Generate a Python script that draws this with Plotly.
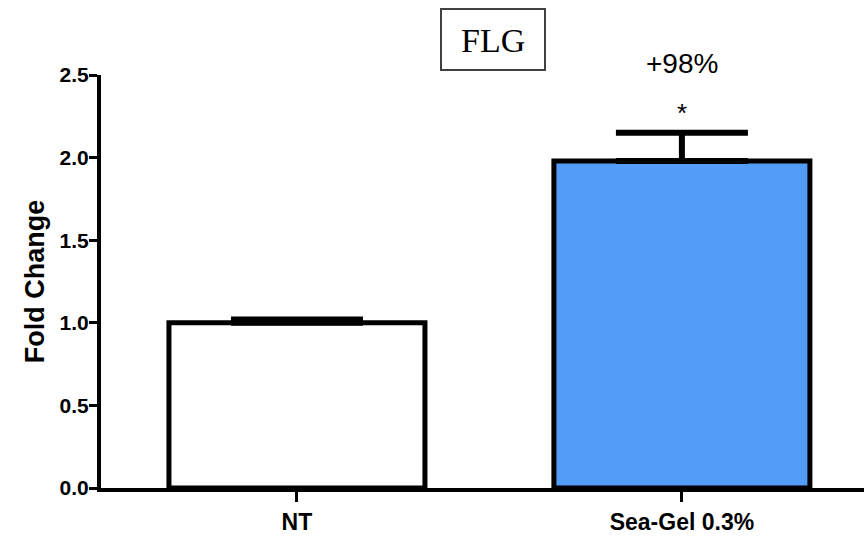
import plotly.graph_objects as go

categories = ["NT", "Sea-Gel 0.3%"]
fold_change = [1.0, 1.98]
sem = [0.02, 0.17]
bar_colors = ["#FFFFFF", "#539CF8"]
y_ticks = [0.0, 0.5, 1.0, 1.5, 2.0, 2.5]
y_tick_text = ["0.0", "0.5", "1.0", "1.5", "2.0", "2.5"]
pct_label = "+98%"
sig_label = "*"
title_text = "FLG"

W, H = 864, 536
ML, MR, MT, MB = 101, 0, 75, 48
pw, ph = W - ML - MR, H - MT - MB

def px_x(px):
    return (px - ML) / pw

def px_y(py):
    return (H - MB - py) / ph

fig = go.Figure()
fig.add_trace(go.Bar(
    x=list(range(len(categories))),
    y=fold_change,
    width=0.665,
    marker=dict(color=bar_colors, line=dict(color="black", width=5)),
    error_y=dict(type="data", array=sem, arrayminus=[0] * len(sem), symmetric=False,
                 color="black", thickness=6, width=66),
    showlegend=False,
    cliponaxis=False,
))

# significance annotations above the Sea-Gel bar (paper coords so they can sit above the axis range)
x_sea = (1 + 0.509) / 1.982
fig.add_annotation(x=x_sea, y=px_y(64), xref="paper", yref="paper",
                   xanchor="center", yanchor="middle",
                   text=pct_label, showarrow=False,
                   font=dict(family="Liberation Sans, Arial", size=28, color="black"))
fig.add_annotation(x=x_sea, y=px_y(113), xref="paper", yref="paper",
                   xanchor="center", yanchor="middle",
                   text=sig_label, showarrow=False,
                   font=dict(family="Liberation Sans, Arial", size=26, color="black"))

# boxed title
fig.add_shape(type="rect", xref="paper", yref="paper",
              x0=px_x(441), x1=px_x(545), y0=px_y(70), y1=px_y(9),
              line=dict(color="#404040", width=2), fillcolor="white", layer="above")
fig.add_annotation(xref="paper", yref="paper", x=px_x(493), y=px_y(40),
                   xanchor="center", yanchor="middle",
                   text=title_text, showarrow=False,
                   font=dict(family="Liberation Serif, Times New Roman", size=34, color="black"))

fig.update_layout(
    width=W, height=H,
    margin=dict(l=ML, r=MR, t=MT, b=MB, pad=0),
    plot_bgcolor="white", paper_bgcolor="white",
    bargap=0.3,
)
fig.update_xaxes(
    range=[-0.509, 1.473],
    tickmode="array", tickvals=list(range(len(categories))), ticktext=[f"<b>{c}</b>" for c in categories],
    ticks="outside", ticklen=10, tickwidth=3, tickcolor="black",
    showline=True, linewidth=4, linecolor="black",
    showgrid=False, zeroline=False,
    tickfont=dict(family="Liberation Sans, Arial", size=23, color="black"),
)
fig.update_yaxes(
    range=[0, 2.5],
    tickmode="array", tickvals=y_ticks, ticktext=[f"<b>{t}</b>" for t in y_tick_text],
    ticks="outside", ticklen=8, tickwidth=3, tickcolor="black",
    ticklabelstandoff=-4,
    showline=True, linewidth=4, linecolor="black",
    showgrid=False, zeroline=False,
    tickfont=dict(family="Liberation Sans, Arial", size=21, color="black"),
    title=dict(text="<b>Fold Change</b>", standoff=8,
               font=dict(family="Liberation Sans, Arial", size=27, color="black")),
)

fig.write_html("out.html",
               config={"displayModeBar": False},
               post_script="document.body.style.margin='0px';document.body.style.overflow='hidden';")
